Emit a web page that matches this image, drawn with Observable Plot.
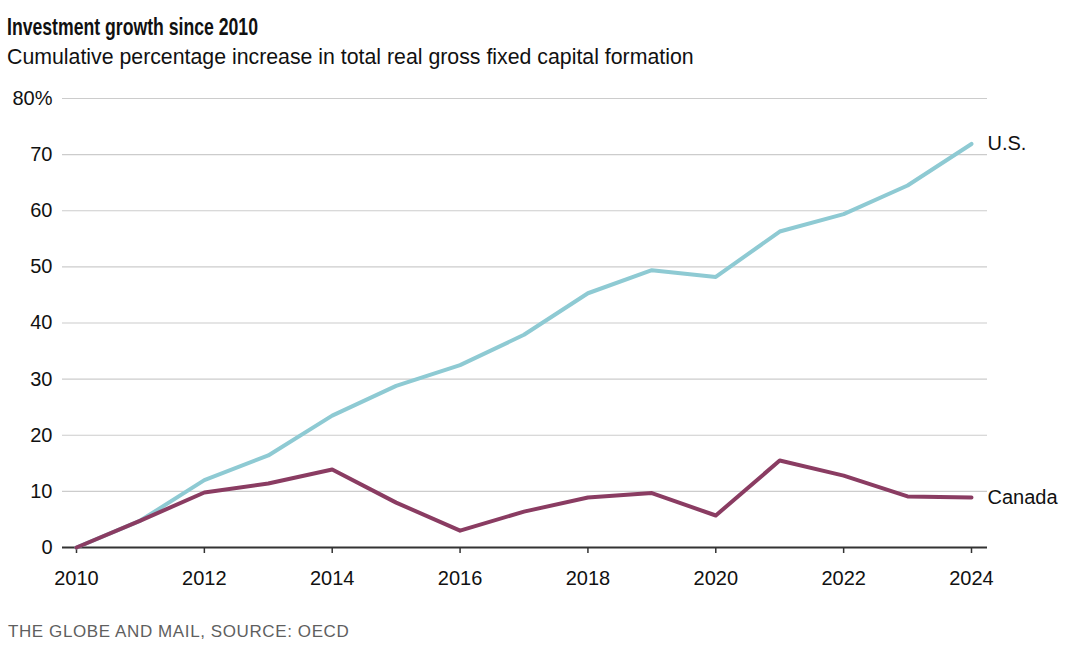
<!DOCTYPE html>
<html>
<head>
<meta charset="utf-8">
<script src="https://cdn.jsdelivr.net/npm/d3@7"></script>
<script src="https://cdn.jsdelivr.net/npm/@observablehq/plot@0.6"></script>
<style>
  html, body { margin: 0; padding: 0; background: #fff; }
  body { width: 1069px; height: 653px; position: relative; overflow: hidden; font-family: "Liberation Sans", Arial, sans-serif; }
  .t { position: absolute; left: 7px; line-height: 1; white-space: nowrap; }
  #title { top: 15px; font-weight: bold; font-size: 24px; color: #111; transform: scaleX(0.735); transform-origin: 0 0; }
  #subtitle { top: 47px; font-size: 21.3px; color: #111; }
  #footer { top: 623px; left: 8px; font-size: 17px; color: #5f5f5f; letter-spacing: 0.6px; }
  #chart { position: absolute; left: 0; top: 80px; }
</style>
</head>
<body>
<div id="title" class="t">Investment growth since 2010</div>
<div id="subtitle" class="t">Cumulative percentage increase in total real gross fixed capital formation</div>
<div id="chart"></div>
<div id="footer" class="t">THE GLOBE AND MAIL, SOURCE: OECD</div>
<script>
const years = [2010, 2011, 2012, 2013, 2014, 2015, 2016, 2017, 2018, 2019, 2020, 2021, 2022, 2023, 2024];
const usValues = [0, 4.8, 12.0, 16.4, 23.5, 28.8, 32.5, 37.9, 45.3, 49.4, 48.2, 56.3, 59.4, 64.5, 71.9];
const canadaValues = [0, 4.8, 9.8, 11.4, 13.9, 8.0, 3.0, 6.4, 8.9, 9.7, 5.7, 15.5, 12.8, 9.1, 8.9];
const seriesNames = ["U.S.", "Canada"];
const xTicks = [2010, 2012, 2014, 2016, 2018, 2020, 2022, 2024];
const yTicks = [0, 10, 20, 30, 40, 50, 60, 70, 80];

const usData = years.map((y, i) => ({year: y, value: usValues[i], series: seriesNames[0]}));
const caData = years.map((y, i) => ({year: y, value: canadaValues[i], series: seriesNames[1]}));
const endLabels = [usData[usData.length - 1], caData[caData.length - 1]];

const US_COLOR = "#8ecad3";
const CA_COLOR = "#8a3c62";

const chart = Plot.plot({
  width: 1069,
  height: 517,
  marginTop: 18,
  marginBottom: 50,
  marginLeft: 62,
  marginRight: 82,
  style: { fontFamily: "'Liberation Sans', Arial, sans-serif", fontSize: "20px", color: "#111", background: "transparent", overflow: "visible" },
  x: { domain: [2010, 2024], insetLeft: 14, insetRight: 16, label: null },
  y: { domain: [0, 80], label: null },
  marks: [
    Plot.ruleY(yTicks.filter(d => d > 0), { stroke: "#cccccc", strokeWidth: 1.2 }),
    Plot.axisY(yTicks, { tickSize: 0, tickPadding: 10, label: null, fontSize: 20, tickFormat: d => d === 80 ? "80%" : String(d) }),
    Plot.axisX(xTicks, { tickSize: 6, tickPadding: 17, label: null, fontSize: 20, tickFormat: d => String(d), stroke: "#333", strokeWidth: 1.5 }),
    Plot.ruleY([0], { stroke: "#333", strokeWidth: 2 }),
    Plot.lineY(usData, { x: "year", y: "value", stroke: US_COLOR, strokeWidth: 4 }),
    Plot.lineY(caData, { x: "year", y: "value", stroke: CA_COLOR, strokeWidth: 4 }),
    Plot.text(endLabels, { x: "year", y: "value", text: "series", textAnchor: "start", dx: 16, fontSize: 20, fill: "#111" })
  ]
});
document.getElementById("chart").appendChild(chart);
</script>
</body>
</html>
